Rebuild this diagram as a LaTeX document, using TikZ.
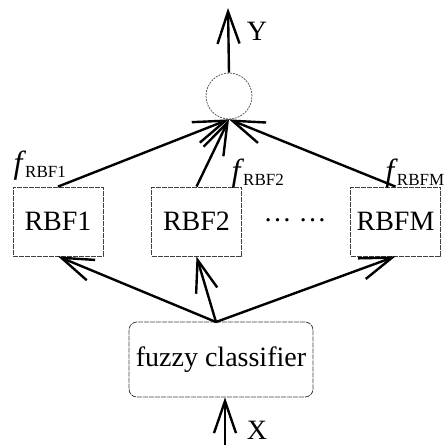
\documentclass[tikz,border=0pt]{standalone}
\usepackage{fontspec}
\setmainfont{Liberation Serif}
\usetikzlibrary{arrows.meta}
\tikzset{
	rbfbox/.style={draw=black!75, dash pattern=on 5pt off 1pt, line width=0.8pt, minimum width=90pt, minimum height=69pt, inner sep=0pt},
	conn/.style={line width=2.4pt},
	arr/.style={conn, -{Straight Barb[length=32pt,width=22pt,line width=2.4pt]}},
	big/.style={font=\fontsize{28}{32}\selectfont}
}
\newcommand{\fsub}[1]{\textit{\fontsize{32}{34}\selectfont f}\kern-1pt\textsubscript{\fontsize{17}{18}\selectfont #1}}
\begin{document}
\begin{tikzpicture}[x=1pt, y=-1pt, big]
	\useasboundingbox (0,0) rectangle (444,445);
	\node[circle, draw=black!70, dash pattern=on 2pt off 1pt, line width=0.7pt, minimum size=46pt, inner sep=0pt] (out) at (229,96) {};
	\coordinate (yout) at (228,8);
	\draw[arr] (out.north) -- (yout);
	\node (ylab) at (257,31) {Y};

	\node[rbfbox] (rbf1) at (58,221.5) {RBF1};
	\node[rbfbox] (rbf2) at (196.5,221.5) {RBF2};
	\node[rbfbox] (rbfm) at (395.5,221.5) {RBFM};
	\node (dots) at (295,220) {\dots\ \dots};
	\node (f1) at (40,166) {\fsub{RBF1}};
	\node (f2) at (258,174) {\fsub{RBF2}};
	\node (fm) at (415,174) {\fsub{RBFM}};

	% outputs of the RBF nets into the sum node
	\draw[arr] (rbf1.north) -- (out.south);
	\draw[arr] (rbf2.north) -- (out.south);
	\draw[arr] (rbfm.north) -- (out.south);

	\node[draw=black!75, dash pattern=on 5pt off 1pt, line width=0.8pt, rounded corners=8pt, minimum width=184pt, minimum height=75pt] (fc) at (221,359.5) {fuzzy classifier};
	\coordinate (hub) at (216,322);
	\draw[arr] (hub) -- (rbf1.south);
	\draw[arr] (hub) -- (rbf2.south);
	\draw[arr] (hub) -- (rbfm.south);

	\coordinate (xin) at (225,445);
	\draw[arr] (xin) -- (xin |- fc.south);
	\node (xlab) at (257,430) {X};
\end{tikzpicture}
\end{document}
